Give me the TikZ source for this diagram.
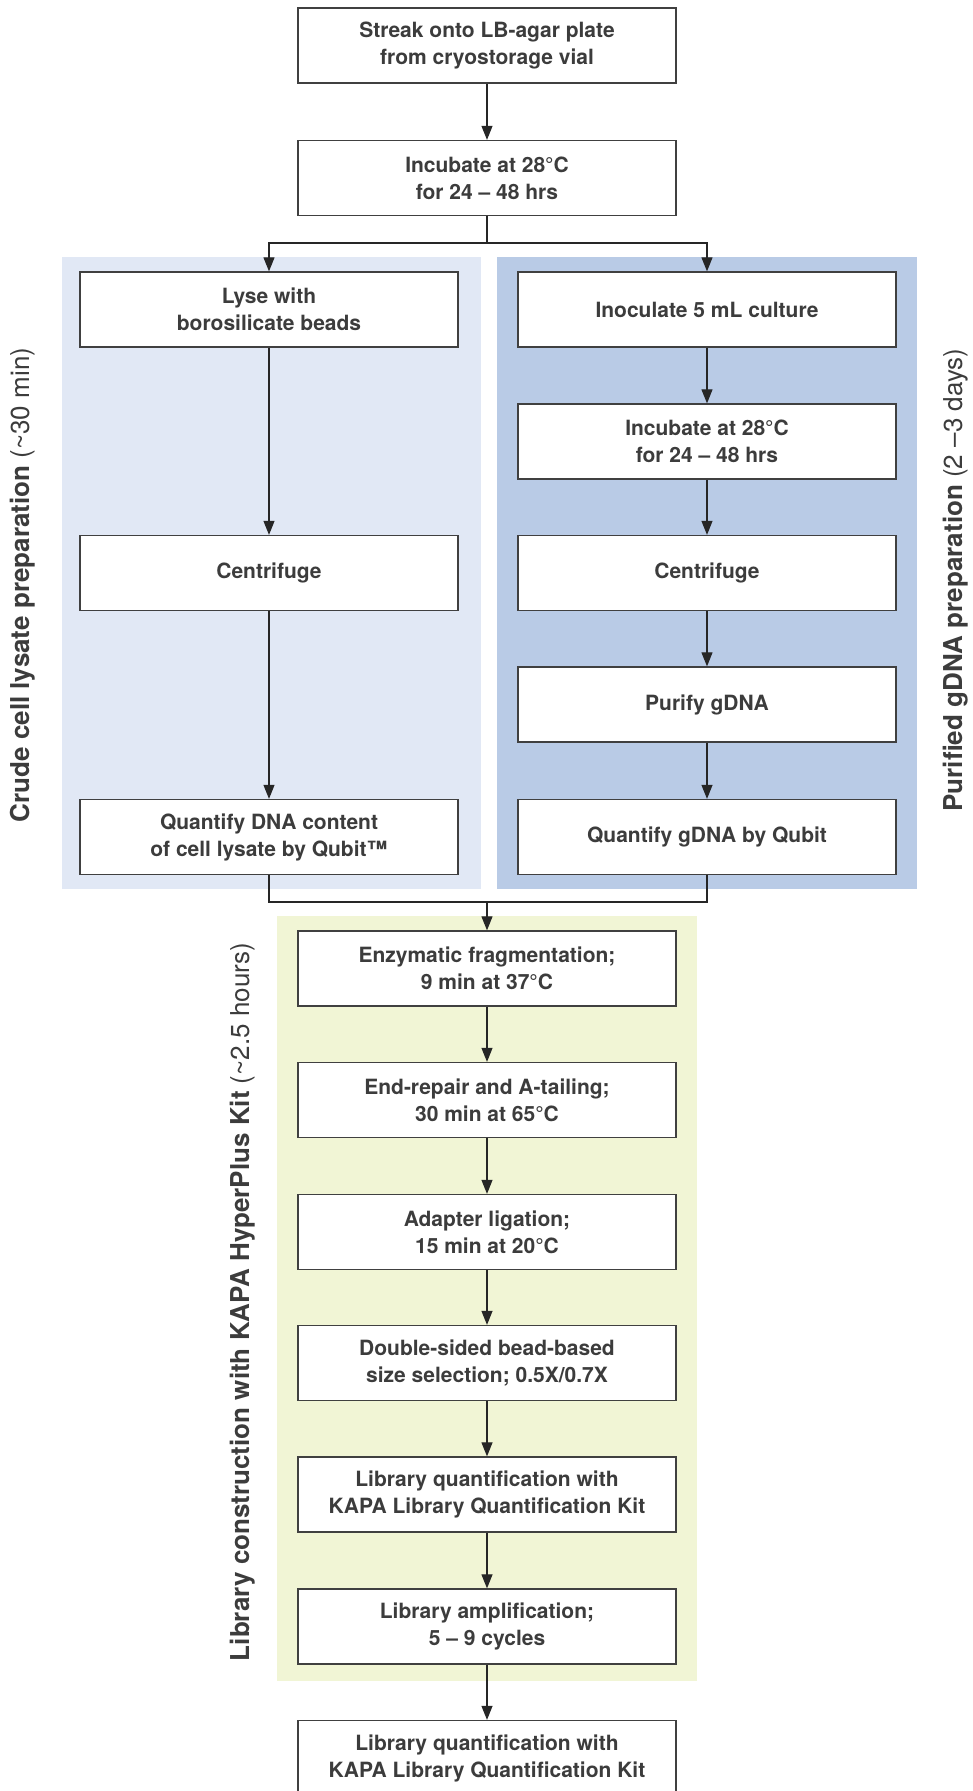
\documentclass[tikz,border=0pt]{standalone}
\usepackage{fontspec}
\setmainfont{TeX Gyre Heros}
\usetikzlibrary{arrows.meta}

\definecolor{boxline}{HTML}{404040}
\definecolor{txtgray}{HTML}{3C3C3C}
\definecolor{crudebg}{HTML}{E1E8F5}
\definecolor{purebg}{HTML}{B9CBE6}
\definecolor{libbg}{HTML}{F1F5D5}

\begin{document}
\begin{tikzpicture}[x=1pt, y=-1pt,
	stepbox/.style={draw=boxline, line width=1.3pt, fill=white, minimum width=378pt, minimum height=75pt, inner sep=0pt, align=center, text=txtgray, font=\fontsize{21}{27}\selectfont\bfseries},
	link/.style={draw=black!85, line width=1.1pt},
	flow/.style={link, -{Triangle[length=14pt, width=11pt]}},
	sidelabel/.style={rotate=90, text=txtgray, font=\fontsize{26}{30}\selectfont}]
	
	\useasboundingbox (0,0) rectangle (972,1791);
	
	% panels behind the boxes
	\fill[crudebg] (62,257) rectangle (481,889);
	\fill[purebg] (497,257) rectangle (917,889);
	\fill[libbg] (277,916) rectangle (697,1681);
	
	\node[sidelabel] (crudelab) at (23,585) {\textbf{Crude cell lysate preparation} (\textasciitilde30 min)};
	\node[sidelabel] (purelab) at (956,580) {\textbf{Purified gDNA preparation} (2 –3 days)};
	\node[sidelabel] (liblab) at (243,1302) {\textbf{Library construction with KAPA HyperPlus Kit} (\textasciitilde2.5 hours)};
	
	\node[stepbox] (streak) at (487,45.5) {Streak onto LB-agar plate\\from cryostorage vial};
	\node[stepbox] (incA) at (487,178) {Incubate at 28°C\\for 24 – 48 hrs};
	
	\node[stepbox] (lyse) at (269,309.5) {Lyse with\\borosilicate beads};
	\node[stepbox] (spinA) at (269,573) {Centrifuge};
	\node[stepbox] (qubitA) at (269,837) {Quantify DNA content\\of cell lysate by Qubit™};
	
	\node[stepbox] (inoc) at (707,309.5) {Inoculate 5 mL culture};
	\node[stepbox] (incB) at (707,441.5) {Incubate at 28°C\\for 24 – 48 hrs};
	\node[stepbox] (spinB) at (707,573) {Centrifuge};
	\node[stepbox] (purify) at (707,704.5) {Purify gDNA};
	\node[stepbox] (qubitB) at (707,837) {Quantify gDNA by Qubit};
	
	\node[stepbox] (frag) at (487,968.5) {Enzymatic fragmentation;\\9 min at 37°C};
	\node[stepbox] (tail) at (487,1100) {End-repair and A-tailing;\\30 min at 65°C};
	\node[stepbox] (ligate) at (487,1232) {Adapter ligation;\\15 min at 20°C};
	\node[stepbox] (select) at (487,1363) {Double-sided bead-based\\size selection; 0.5X/0.7X};
	\node[stepbox] (quantA) at (487,1494.5) {Library quantification with\\KAPA Library Quantification Kit};
	\node[stepbox] (amplify) at (487,1626.5) {Library amplification;\\5 – 9 cycles};
	\node[stepbox] (quantB) at (487,1758) {Library quantification with\\KAPA Library Quantification Kit};
	
	% split into the two preparations
	\draw[flow] (streak) -- (incA);
	\coordinate (split) at (487,243);
	\draw[link] (incA) -- (split);
	\draw[flow] (split) -| (lyse.north);
	\draw[flow] (split) -| (inoc.north);
	
	\draw[flow] (lyse) -- (spinA);
	\draw[flow] (spinA) -- (qubitA);
	
	\draw[flow] (inoc) -- (incB);
	\draw[flow] (incB) -- (spinB);
	\draw[flow] (spinB) -- (purify);
	\draw[flow] (purify) -- (qubitB);
	
	% both join again
	\coordinate (merge) at (487,902);
	\draw[link] (qubitA.south) |- (merge) -| (qubitB.south);
	\draw[flow] (merge) -- (frag);
	
	\draw[flow] (frag) -- (tail);
	\draw[flow] (tail) -- (ligate);
	\draw[flow] (ligate) -- (select);
	\draw[flow] (select) -- (quantA);
	\draw[flow] (quantA) -- (amplify);
	\draw[flow] (amplify) -- (quantB);
\end{tikzpicture}
\end{document}
